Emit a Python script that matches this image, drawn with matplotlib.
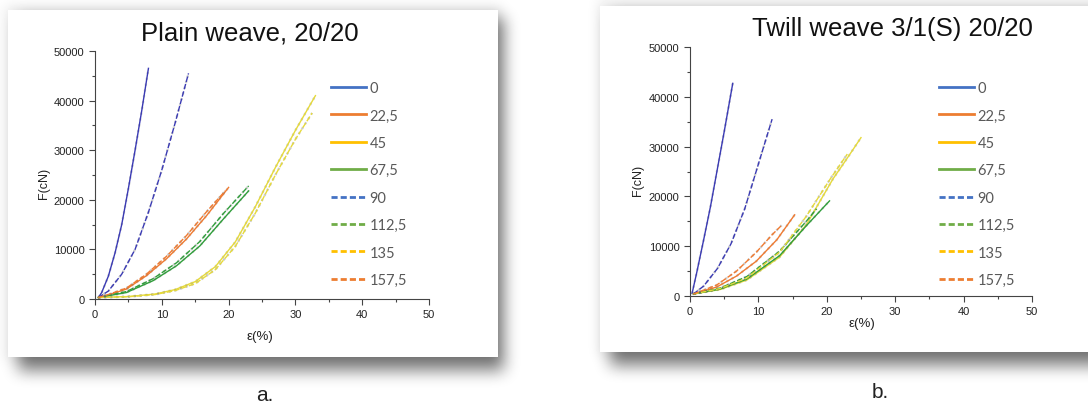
import numpy as np
import matplotlib
matplotlib.use('agg')
import matplotlib.pyplot as plt
from matplotlib.lines import Line2D
from matplotlib.ticker import MultipleLocator

W, H = 1088, 406

angles = ['0', '22,5', '45', '67,5', '90', '112,5', '135', '157,5']

# plain weave 20/20 : strain (%) / force (cN)
pw0_e = [0.5, 1, 2, 3, 4, 5, 6, 7, 8]
pw0_f = [300, 1300, 4600, 9300, 15000, 22300, 30000, 38000, 46500]
pw22_e = [0.5, 2, 4.7, 7.7, 10.7, 13.7, 16.7, 20]
pw22_f = [300, 800, 2000, 4700, 8100, 12100, 16800, 22500]
pw45_e = [0.5, 5, 9, 12, 15, 18, 21, 24, 27, 30, 33]
pw45_f = [300, 500, 1000, 1900, 3500, 6500, 11500, 18600, 26500, 34000, 41000]
pw67_e = [0.5, 4.7, 8.7, 12.2, 15.7, 19.2, 23]
pw67_f = [300, 1300, 3700, 6700, 10700, 16100, 21800]
pw90_e = [0.5, 2, 4, 6, 8, 10, 12, 14]
pw90_f = [300, 1600, 5000, 10000, 17500, 26000, 35500, 45500]
pw112_e = [0.5, 4.7, 8.7, 12.2, 15.7, 19.2, 23]
pw112_f = [300, 1500, 4100, 7300, 11600, 17200, 22800]
pw135_e = [0.5, 5, 9, 12, 15, 18, 21, 24, 27, 30, 32.5]
pw135_f = [300, 450, 900, 1700, 3100, 5900, 10600, 17300, 25000, 32200, 37500]
pw157_e = [0.5, 2, 4.7, 7.7, 10.7, 13.7, 16.7, 19.5]
pw157_f = [300, 900, 2200, 5000, 8600, 12800, 17600, 21800]

# twill weave 3/1(S) 20/20
tw0_e = [0.3, 1, 2, 3, 4, 5, 6.25]
tw0_f = [500, 4800, 11300, 18000, 25500, 33000, 42700]
tw22_e = [0.5, 3.9, 6.8, 9.7, 12.7, 15.3]
tw22_f = [400, 1800, 4000, 7000, 11300, 16300]
tw45_e = [0.5, 4.4, 8.3, 13.1, 17, 20.9, 22.9, 25]
tw45_f = [400, 1300, 3200, 7800, 14300, 23500, 27500, 31800]
tw67_e = [0.5, 4.4, 8.3, 13.1, 17, 20.4]
tw67_f = [400, 1400, 3400, 8100, 14100, 19100]
tw90_e = [0.5, 2, 4, 6, 8, 10, 12]
tw90_f = [400, 2000, 5500, 10500, 17500, 26500, 35500]
tw112_e = [0.5, 4.4, 8.3, 13.1, 17, 18.5]
tw112_f = [400, 1600, 3900, 9000, 15000, 17500]
tw135_e = [0.5, 4.4, 8.3, 13.1, 17, 20.5, 23]
tw135_f = [400, 1500, 3600, 8800, 16000, 23500, 28500]
tw157_e = [0.5, 3.9, 6.8, 9.7, 12, 13.4]
tw157_f = [400, 2200, 5000, 8800, 12300, 14200]

# line colours in the plots and in the legend, one per angle
curve_cols = ['#3a3ab4', '#f07a30', '#e6da3a', '#2f9e3a', '#3a3ab4', '#2f9e3a', '#e6da3a', '#f07a30']
leg_cols = ['#4472c4', '#ed7d31', '#ffc000', '#70ad47', '#4472c4', '#70ad47', '#ffc000', '#ed7d31']
dash = (0, (4, 1.5))

fig = plt.figure(figsize=(W / 100, H / 100), dpi=100)


def fx(x):
    return x / W


def fy(y):
    return 1 - y / H


def box_blur(a, r):
    for axis in (0, 1):
        pad = [(r + 1, r) if i == axis else (0, 0) for i in range(2)]
        c = np.cumsum(np.pad(a, pad, mode='edge'), axis=axis)
        n = c.shape[axis]
        a = (np.take(c, range(2 * r + 1, n), axis=axis)
             - np.take(c, range(0, n - 2 * r - 1), axis=axis)) / (2 * r + 1)
    return a


# background: two white cards with soft drop shadows
bg = fig.add_axes([0, 0, 1, 1])
bg.set_axis_off()
yy, xx = np.mgrid[0:H, 0:W]
cards = [(8, 11, 498, 358), (600, 7, 1088, 353)]
shade = np.zeros((H, W))
for x0, y0, x1, y1 in cards:
    m = ((xx >= x0 + 10) & (xx < x1 + 6) & (yy >= y0 + 8) & (yy < y1 + 14)).astype(float)
    for _ in range(3):
        m = box_blur(m, 7)
    halo = ((xx >= x0 - 3) & (xx < x1 + 3) & (yy >= y0 - 5) & (yy < y1 + 3)).astype(float)
    for _ in range(3):
        halo = box_blur(halo, 5)
    shade = np.maximum(shade, 0.5 * m + 0.07 * halo)
img = 1 - shade
for x0, y0, x1, y1 in cards:
    img[y0:y1, x0:x1] = 1
bg.imshow(img, cmap='gray', vmin=0, vmax=1, extent=(0, W, H, 0), aspect='auto', interpolation='bilinear')
bg.set_xlim(0, W)
bg.set_ylim(H, 0)

ax1 = fig.add_axes([fx(95), fy(300), 334 / W, 248 / H])
ax2 = fig.add_axes([fx(690), fy(297), 342 / W, 249 / H])

panels = [
    (ax1, [(pw0_e, pw0_f), (pw22_e, pw22_f), (pw45_e, pw45_f), (pw67_e, pw67_f),
           (pw90_e, pw90_f), (pw112_e, pw112_f), (pw135_e, pw135_f), (pw157_e, pw157_f)]),
    (ax2, [(tw0_e, tw0_f), (tw22_e, tw22_f), (tw45_e, tw45_f), (tw67_e, tw67_f),
           (tw90_e, tw90_f), (tw112_e, tw112_f), (tw135_e, tw135_f), (tw157_e, tw157_f)]),
]

for ax, curves in panels:
    ax.set_facecolor('none')
    for i, (e, f) in enumerate(curves):
        ls = '-' if i < 4 else dash
        ax.plot(e, f, color='#666666', ls=':', lw=1.6, alpha=0.35)
        ax.plot(e, f, color=curve_cols[i], ls=ls, lw=1.0)
    ax.set_xlim(0, 50)
    ax.set_ylim(0, 50000)
    ax.xaxis.set_major_locator(MultipleLocator(10))
    ax.xaxis.set_minor_locator(MultipleLocator(5))
    ax.yaxis.set_major_locator(MultipleLocator(10000))
    ax.yaxis.set_minor_locator(MultipleLocator(5000))
    for s in ['top', 'right']:
        ax.spines[s].set_visible(False)
    for s in ['left', 'bottom']:
        ax.spines[s].set_color('#444444')
        ax.spines[s].set_linewidth(0.8)
    ax.tick_params(which='major', direction='out', length=4, width=0.8, colors='#444444',
                   labelsize=8, labelcolor='#222222')
    ax.tick_params(which='minor', direction='out', length=2.5, width=0.8, colors='#444444')
    for lab in ax.get_xticklabels() + ax.get_yticklabels():
        lab.set_fontfamily('Liberation Sans')

    handles = [Line2D([], [], color=leg_cols[i], lw=2, ls='-' if i < 4 else (0, (2.2, 1.1)))
               for i in range(8)]
    lx = 331 if ax is ax1 else 939
    ax.legend(handles, angles, loc='upper left', bbox_to_anchor=(fx(lx), fy(82)),
              bbox_transform=fig.transFigure, frameon=False, borderpad=0, borderaxespad=0,
              handlelength=2.4, handletextpad=0.25, labelspacing=0.92, labelcolor='#595959',
              prop={'family': 'Lato', 'size': 10.5})

ax1.set_ylabel('F(cN)', fontsize=9, family='Liberation Sans', color='#222222')
ax1.yaxis.set_label_coords(-0.135, 0.47)
ax1.set_xlabel('ε(%)', fontsize=9.5, family='Liberation Sans', color='#222222')
ax1.xaxis.set_label_coords(0.494, -0.125)
ax2.set_ylabel('F(cN)', fontsize=9, family='Liberation Sans', color='#222222')
ax2.yaxis.set_label_coords(-0.135, 0.47)
ax2.set_xlabel('ε(%)', fontsize=9.5, family='Liberation Sans', color='#222222')
ax2.xaxis.set_label_coords(0.503, -0.085)

fig.text(fx(250), fy(33), 'Plain weave, 20/20', ha='center', va='center',
         fontsize=18.5, family='Liberation Sans', color='#111111')
fig.text(fx(892), fy(29), 'Twill weave 3/1(S) 20/20', ha='center', va='center',
         fontsize=18.5, family='Liberation Sans', color='#111111')
fig.text(fx(265), fy(396), 'a.', ha='center', va='center', fontsize=15,
         family='Liberation Sans', color='#222222')
fig.text(fx(880), fy(393), 'b.', ha='center', va='center', fontsize=15,
         family='Liberation Sans', color='#222222')

fig.savefig('out.png', dpi=100)
